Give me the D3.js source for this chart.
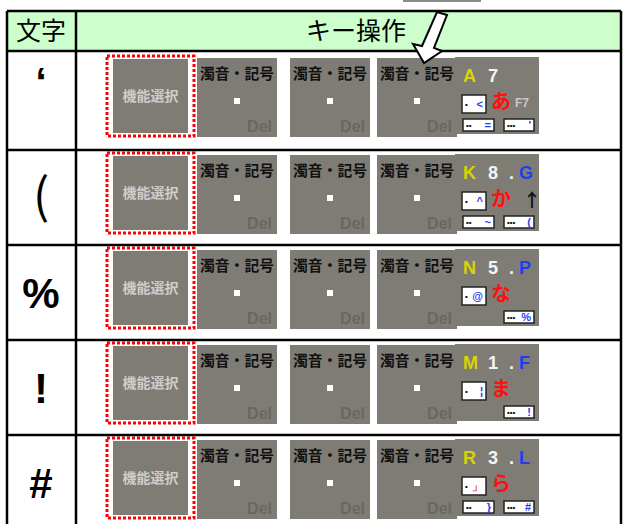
<!DOCTYPE html>
<html><head><meta charset="utf-8">
<script src="https://cdn.jsdelivr.net/npm/d3@7"></script>
<style>body{margin:0;background:#fff}svg{display:block}</style>
</head><body>
<script>
const headers = ["文字", "キー操作"];
const chars = ["‘", "(", "%", "!", "#"];
const tileLabels = ["機能選択", "濁音・記号", "濁音・記号", "濁音・記号"];
const letters = ["A", "K", "N", "M", "R"];
const digits = ["7", "8", "5", "1", "3"];
const alts = ["", "G", "P", "F", "L"];
const kana = ["あ", "か", "な", "ま", "ら"];
const key1 = ["<", "^", "@", "¦", "」"];
const key2 = ["=", "~", "", "", "}"];
const key3 = ["'", "(", "%", "!", "#"];
const extras = ["F7", "↑", "", "", ""];

const W = 623, H = 524;
const svg = d3.select("body").append("svg").attr("width", W).attr("height", H);
const JP = "'Noto Sans CJK JP', sans-serif";
const LAT = "'Liberation Sans', Arial, sans-serif";
const GRAY = "#7f7c76";

// scales
const y = d3.scaleBand().domain(chars).range([55, 530]);
const colX = d3.scaleOrdinal().domain([0, 1, 2, 3, 4]).range([113, 197, 290, 377, 455]);
const colW = d3.scaleOrdinal().domain([0, 1, 2, 3, 4]).range([75, 80, 80, 80, 84]);
const rowTop = (c, i) => i === 0 ? 51 : y(c);

// top gray bar
svg.append("rect").attr("x", 403).attr("y", 0).attr("width", 78).attr("height", 2).attr("fill", "#8a8a8a");

// header
svg.append("rect").attr("x", 7).attr("y", 11).attr("width", 614).attr("height", 40).attr("fill", "#ccffcc");
svg.append("text").attr("x", 41).attr("y", 40).attr("text-anchor", "middle")
  .attr("font-family", JP).attr("font-size", 25).attr("fill", "#000").text(headers[0]);
svg.append("text").attr("x", 356).attr("y", 40).attr("text-anchor", "middle")
  .attr("font-family", JP).attr("font-size", 25).attr("fill", "#000").text(headers[1]);

// rows
const rows = svg.selectAll("g.row").data(chars).join("g").attr("class", "row");

rows.each(function (c, i) {
  const g = d3.select(this);
  const top = rowTop(c, i);
  const bot = y(c) + y.bandwidth();
  const ty = y(c) + (i === 0 ? 3 : 5);
  // character
  g.append("text").attr("x", 41)
    .attr("y", i === 0 ? top + 45 : (top + bot) / 2 + 15)
    .attr("text-anchor", "middle")
    .attr("font-family", i === 1 ? JP : LAT).attr("font-weight", i === 1 ? 400 : 700)
    .attr("font-size", i === 0 ? 40 : (i === 1 ? 48 : 42))
    .attr("fill", "#000").text(c);

  // gray tiles
  tileLabels.forEach((lab, k) => {
    const tx = colX(k), w = colW(k);
    if (k === 0) {
      g.append("rect").attr("x", tx - 6).attr("y", ty - 2).attr("width", w + 12).attr("height", 80)
        .attr("fill", "none").attr("stroke", "#ff0000").attr("stroke-width", 3)
        .attr("stroke-dasharray", "3,2");
      g.append("rect").attr("x", tx).attr("y", ty + 1).attr("width", w).attr("height", 74).attr("fill", GRAY);
      g.append("text").attr("x", tx + w / 2).attr("y", ty + 43).attr("text-anchor", "middle")
        .attr("font-family", JP).attr("font-weight", 700).attr("font-size", 14)
        .attr("fill", "#cfcdc9").text(lab);
    } else {
      g.append("rect").attr("x", tx).attr("y", ty).attr("width", w).attr("height", 79).attr("fill", GRAY);
      g.append("text").attr("x", tx + 3).attr("y", ty + 21)
        .attr("font-family", JP).attr("font-weight", 700).attr("font-size", 15)
        .attr("textLength", w - 6).attr("lengthAdjust", "spacingAndGlyphs")
        .attr("fill", "#111").text(lab);
      g.append("rect").attr("x", tx + w / 2 - 3).attr("y", ty + 40).attr("width", 6).attr("height", 6).attr("fill", "#fff");
      g.append("text").attr("x", tx + w - 5).attr("y", ty + 74).attr("text-anchor", "end")
        .attr("font-family", LAT).attr("font-weight", 700).attr("font-size", 16)
        .attr("fill", "#6a6762").text("Del");
    }
  });

  // last key tile
  const tx = colX(4), w = colW(4), t = ty - 1;
  g.append("rect").attr("x", tx).attr("y", t).attr("width", w).attr("height", 77).attr("fill", GRAY);
  g.append("text").attr("x", tx + 8).attr("y", t + 25).attr("font-family", LAT).attr("font-weight", 700)
    .attr("font-size", 18).attr("fill", "#d8d400").text(letters[i]);
  g.append("text").attr("x", tx + 33).attr("y", t + 25).attr("font-family", LAT).attr("font-weight", 700)
    .attr("font-size", 18).attr("fill", "#f4f4f4").text(digits[i]);
  if (alts[i]) {
    g.append("text").attr("x", tx + 54).attr("y", t + 25).attr("font-family", LAT).attr("font-weight", 700)
      .attr("font-size", 18).attr("fill", "#f4f4f4").text(".");
    g.append("text").attr("x", tx + 64).attr("y", t + 25).attr("font-family", LAT).attr("font-weight", 700)
      .attr("font-size", 18).attr("fill", "#1f3df5").text(alts[i]);
  }
  g.append("text").attr("x", tx + 36).attr("y", t + 52).attr("font-family", JP).attr("font-weight", 700)
    .attr("font-size", 20).attr("fill", "#ff1010").text(kana[i]);
  if (extras[i]) {
    const isArrow = extras[i] === "↑";
    g.append("text").attr("x", isArrow ? tx + 68 : tx + 60).attr("y", isArrow ? t + 53 : t + 50)
      .attr("font-family", isArrow ? JP : LAT).attr("font-weight", 700)
      .attr("font-size", isArrow ? 18 : 12).attr("fill", isArrow ? "#111" : "#c9c9c9").text(extras[i]);
  }
  const keyBox = (bx, by, bw, bh, dots, sym, symColor) => {
    g.append("rect").attr("x", bx).attr("y", by).attr("width", bw).attr("height", bh)
      .attr("fill", "#fff").attr("stroke", "#222").attr("stroke-width", 1.5);
    g.append("text").attr("x", bx + 3).attr("y", by + bh / 2 + 3).attr("font-family", LAT).attr("font-weight", 700)
      .attr("font-size", 8).attr("fill", "#111").text(dots);
    g.append("text").attr("x", bx + bw - 3).attr("y", by + bh / 2 + 4).attr("text-anchor", "end")
      .attr("font-family", LAT).attr("font-weight", 700).attr("font-size", 11)
      .attr("fill", symColor).text(sym);
  };
  keyBox(tx + 7, t + 38, 24, 18, "•", key1[i], i === 4 ? "#e04020" : "#1f3df5");
  if (key2[i]) keyBox(tx + 8, t + 62, 31, 12, "••", key2[i], "#1f3df5");
  keyBox(tx + 49, t + 62, 30, 12, "•••", key3[i], "#1f3df5");
});

// grid lines
const lines = svg.append("g").attr("stroke", "#000").attr("stroke-width", 2.5);
lines.append("line").attr("x1", 7).attr("x2", 621).attr("y1", 11).attr("y2", 11);
lines.append("line").attr("x1", 7).attr("x2", 621).attr("y1", 51).attr("y2", 51);
lines.selectAll("line.rowline").data(chars.slice(1)).join("line").attr("class", "rowline")
  .attr("x1", 7).attr("x2", 621).attr("y1", d => y(d)).attr("y2", d => y(d));
lines.append("line").attr("x1", 7).attr("x2", 7).attr("y1", 11).attr("y2", H);
lines.append("line").attr("x1", 76).attr("x2", 76).attr("y1", 11).attr("y2", H);
lines.append("line").attr("x1", 621).attr("x2", 621).attr("y1", 11).attr("y2", H);

// arrow pointer
svg.append("polygon")
  .attr("points", "437,12 447,15 434,48 442,51 424,63 413,44 422,46")
  .attr("fill", "#fff").attr("stroke", "#000").attr("stroke-width", 2).attr("stroke-linejoin", "miter");
</script>
</body></html>
